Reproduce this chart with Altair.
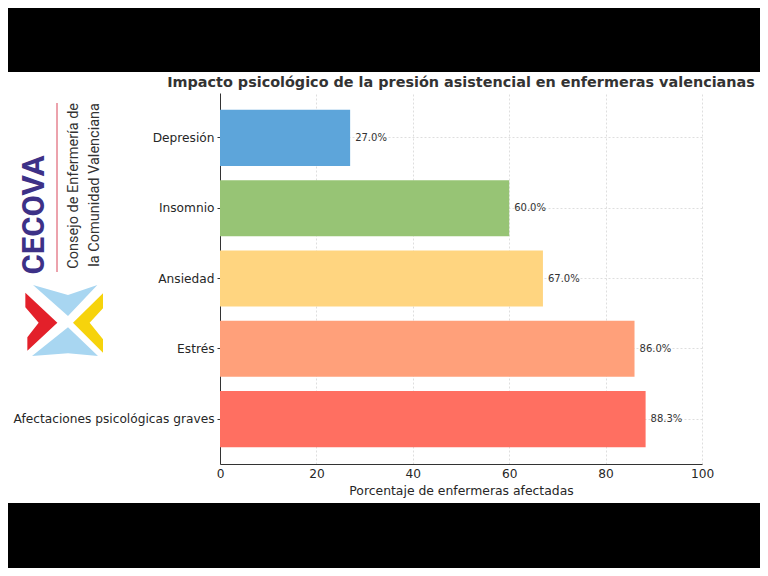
import altair as alt
import pandas as pd

# ---------------- data ----------------
categories = ["Depresión", "Insomnio", "Ansiedad", "Estrés", "Afectaciones psicológicas graves"]
values = [27.0, 60.0, 67.0, 86.0, 88.3]
bar_colors = ["#5DA5DA", "#97C475", "#FFD580", "#FFA07A", "#FF6F61"]
x_ticks = [0, 20, 40, 60, 80, 100]
chart_title = "Impacto psicológico de la presión asistencial en enfermeras valencianas"
x_title = "Porcentaje de enfermeras afectadas"

logo_word = ["CECOVA"]
logo_line1 = ["Consejo de Enfermería de"]
logo_line2 = ["la Comunidad Valenciana"]
logo_shape_paths = [
    "M-0.853,-0.6L-0.213,0L-0.813,0.56L-0.813,0.293L-0.587,0L-0.853,-0.307Z",
    "M0.7,-0.587L0.1,0L0.7,0.6L0.7,0.333L0.433,0L0.7,-0.287Z",
    "M-0.7,-0.753L0,-0.553L0.587,-0.753L0,-0.133Z",
    "M0,0.093L0.6,0.667L0,0.613L-0.72,0.667Z",
]
logo_shape_colors = ["#E3202A", "#F6D30C", "#A8D6F1", "#A8D6F1"]

# ---------------- layout ----------------
W, H = 482, 371
PAD = {"left": 212, "top": 85, "right": 58, "bottom": 104}

df = pd.DataFrame({"categoria": categories, "valor": values})
one = pd.DataFrame({"k": [0]})

y_enc = alt.Y(
    "categoria:N",
    sort=categories,
    scale=alt.Scale(paddingInner=0.2, paddingOuter=0.24),
    axis=alt.Axis(
        title=None,
        labelFont="DejaVu Sans",
        labelFontSize=12.2,
        labelColor="#262626",
        labelLimit=400,
        tickSize=3,
        tickColor="#333333",
        labelPadding=3,
        domainColor="#333333",
        grid=True,
        gridColor="#D6D6D6",
        gridDash=[2, 2],
        gridWidth=0.8,
        bandPosition=0.5,
    ),
)
x_enc = alt.X(
    "valor:Q",
    scale=alt.Scale(domain=[0, 100], nice=False),
    axis=alt.Axis(
        values=x_ticks,
        title=x_title,
        labelFont="DejaVu Sans",
        labelFontSize=12.2,
        labelColor="#262626",
        labelPadding=3,
        labelFlush=False,
        tickSize=0,
        domainColor="#333333",
        grid=True,
        gridColor="#D6D6D6",
        gridDash=[2, 2],
        gridWidth=0.8,
        titleFont="DejaVu Sans",
        titleFontSize=12.4,
        titleFontWeight="normal",
        titleColor="#262626",
        titlePadding=5,
    ),
)

bars = alt.Chart(df).mark_bar().encode(
    x=x_enc,
    y=y_enc,
    color=alt.Color("categoria:N", scale=alt.Scale(domain=categories, range=bar_colors), legend=None),
)

labels = (
    alt.Chart(df)
    .transform_calculate(etiqueta="format(datum.valor, '.1f') + '%'")
    .mark_text(align="left", baseline="middle", dx=5, font="DejaVu Sans", fontSize=10, color="#333333")
    .encode(x="valor:Q", y=alt.Y("categoria:N", sort=categories), text="etiqueta:N")
)

top_band = alt.Chart(one).mark_rect(color="black").encode(
    x=alt.value(-230), x2=alt.value(560), y=alt.value(-100), y2=alt.value(-21)
)
bottom_band = alt.Chart(one).mark_rect(color="black").encode(
    x=alt.value(-230), x2=alt.value(560), y=alt.value(410), y2=alt.value(490)
)

title_mark = alt.Chart(pd.DataFrame({"t": [chart_title]})).mark_text(
    font="DejaVu Sans", fontSize=14.4, fontWeight="bold", color="#333333", align="center", baseline="middle"
).encode(x=alt.value(W / 2), y=alt.value(-10), text="t:N")

cecova = alt.Chart(pd.DataFrame({"t": logo_word})).mark_text(
    font="Roboto", fontSize=31, fontWeight="bold", color="#3D3187",
    angle=270, align="center", baseline="middle",
).encode(x=alt.value(-185), y=alt.value(122), text="t:N")

red_line = alt.Chart(one).mark_rule(color="#D9475A", strokeWidth=1).encode(
    x=alt.value(-163), y=alt.value(10), y2=alt.value(179)
)

line1 = alt.Chart(pd.DataFrame({"t": logo_line1})).mark_text(
    font="Roboto", fontSize=14.5, fontWeight="normal", color="#333333",
    angle=270, align="right", baseline="middle",
).encode(x=alt.value(-146), y=alt.value(10), text="t:N")

line2 = alt.Chart(pd.DataFrame({"t": logo_line2})).mark_text(
    font="Roboto", fontSize=14.5, fontWeight="normal", color="#333333",
    angle=270, align="right", baseline="middle",
).encode(x=alt.value(-125), y=alt.value(10), text="t:N")

shapes = alt.Chart(pd.DataFrame({"p": logo_shape_paths, "c": logo_shape_colors})).mark_point(
    filled=True, opacity=1, size=10000, strokeWidth=0
).encode(
    x=alt.value(-152), y=alt.value(229.7),
    shape=alt.Shape("p:N", scale=None),
    color=alt.Color("c:N", scale=None),
)

chart = (
    alt.layer(top_band, bottom_band, bars, labels, title_mark, cecova, red_line, line1, line2, shapes)
    .properties(
        width=W,
        height=H,
        autosize=alt.AutoSizeParams(type="none"),
        padding=PAD,
        background="white",
    )
    .configure_view(stroke=None)
)

chart.save("out.html", embed_options={"renderer": "svg", "actions": False})
